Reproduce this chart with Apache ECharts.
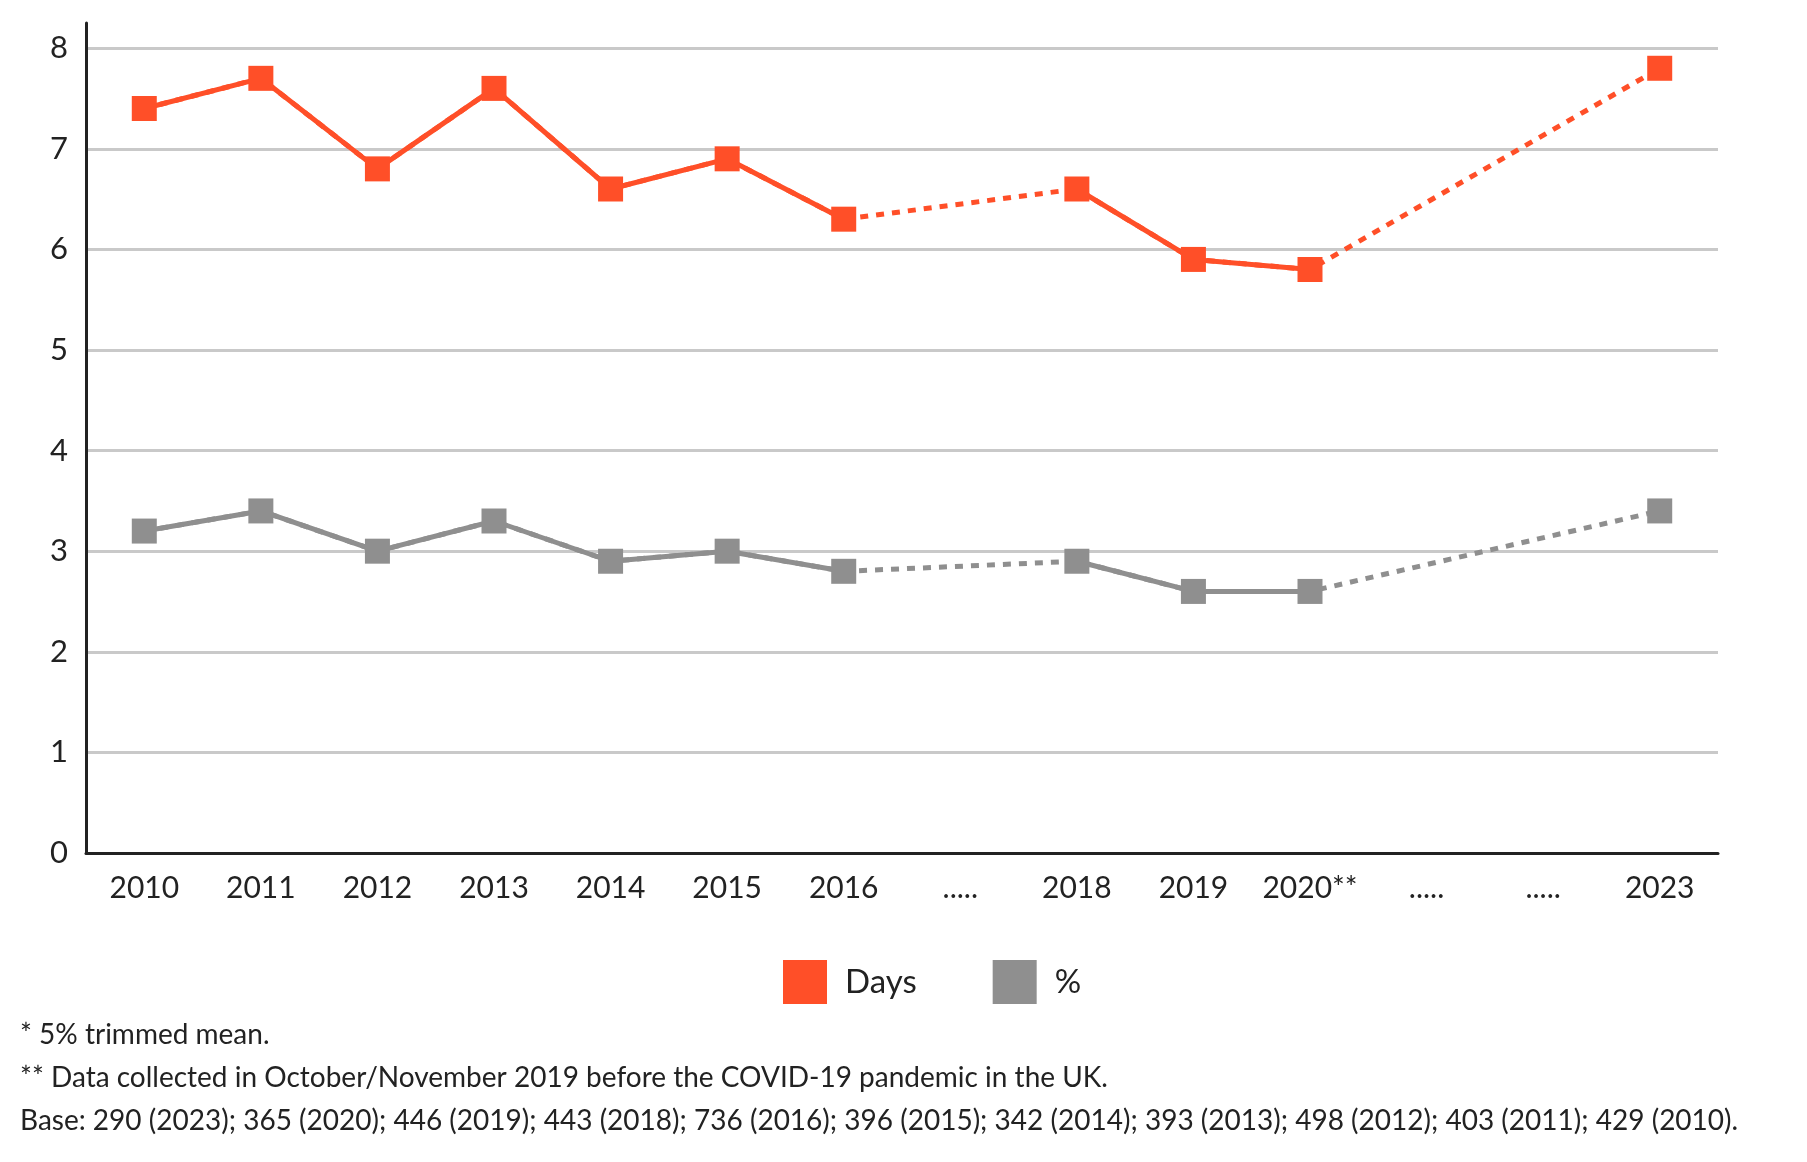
<!DOCTYPE html>
<html>
<head>
<meta charset="utf-8">
<script src="https://cdn.jsdelivr.net/npm/echarts@6/dist/echarts.min.js"></script>
<style>
html,body{margin:0;padding:0;background:#fff;}
#chart{width:1807px;height:1162px;}
</style>
</head>
<body>
<div id="chart"></div>
<script>
// ---- data ----
var categories = ['2010','2011','2012','2013','2014','2015','2016','.....','2018','2019','2020**','.....','.....','2023'];
var daysValues = [7.4, 7.7, 6.8, 7.6, 6.6, 6.9, 6.3, null, 6.6, 5.9, 5.8, null, null, 7.8];
var pctValues  = [3.2, 3.4, 3.0, 3.3, 2.9, 3.0, 2.8, null, 2.9, 2.6, 2.6, null, null, 3.4];
var seriesNames = ['Days', '%'];
var yTicks = [0,1,2,3,4,5,6,7,8];
var footnotes = [
  '* 5% trimmed mean.',
  '** Data collected in October/November 2019 before the COVID-19 pandemic in the UK.',
  'Base: 290 (2023); 365 (2020); 446 (2019); 443 (2018); 736 (2016); 396 (2015); 342 (2014); 393 (2013); 498 (2012); 403 (2011); 429 (2010).'
];

var ORANGE = '#FF4F28';
var GREY = '#8F8F8F';
var FONT = 'Lato, "Open Sans", sans-serif';
var TEXT = '#222222';

function solid(name, data, color) {
  return {
    name: name, type: 'line', data: data, connectNulls: false,
    symbol: 'rect', symbolSize: 25, showSymbol: true, showAllSymbol: true,
    lineStyle: {color: color, width: 5, type: 'solid'},
    itemStyle: {color: color},
    emphasis: {disabled: true}, animation: false, z: 3
  };
}
function dotted(name, data, color) {
  return {
    name: name + ' (gap)', type: 'line', data: data, connectNulls: true,
    symbol: 'none', showSymbol: false,
    lineStyle: {color: color, width: 5, type: [8, 8]},
    itemStyle: {color: color},
    emphasis: {disabled: true}, animation: false, z: 2
  };
}

var chart = echarts.init(document.getElementById('chart'), null, {renderer: 'canvas'});
chart.setOption({
  backgroundColor: '#ffffff',
  animation: false,
  grid: {left: 86, right: 89, top: 23, bottom: 309, containLabel: false, outerBoundsMode: 'none'},
  legend: {
    data: seriesNames,
    left: 778, top: 955,
    itemWidth: 44, itemHeight: 44, itemGap: 76,
    icon: 'rect',
    textStyle: {fontFamily: FONT, fontSize: 33, color: TEXT, padding: [0,0,0,13]},
    selectedMode: false
  },
  xAxis: {
    type: 'category', data: categories, boundaryGap: true,
    axisLine: {show: true, lineStyle: {color: '#222', width: 3}},
    axisTick: {show: false},
    axisLabel: {fontFamily: FONT, fontSize: 30, color: TEXT, margin: 20, interval: 0},
    splitLine: {show: false}
  },
  yAxis: {
    type: 'value', min: 0, max: 8.25, interval: 1,
    axisLine: {show: true, lineStyle: {color: '#222', width: 3}},
    axisTick: {show: false},
    axisLabel: {
      fontFamily: FONT, fontSize: 31, color: TEXT, margin: 18,
      formatter: function (v) { return yTicks.indexOf(v) >= 0 ? String(v) : ''; }
    },
    splitLine: {show: true, showMinLine: false, showMaxLine: false, lineStyle: {color: '#c9c9c9', width: 3}}
  },
  series: [
    dotted('Days', daysValues, ORANGE),
    dotted('%', pctValues, GREY),
    solid('Days', daysValues, ORANGE),
    solid('%', pctValues, GREY)
  ],
  graphic: footnotes.map(function (t, i) {
    return {
      type: 'text', left: 20, top: 1021 + i * 43,
      style: {text: t, fontFamily: FONT, fontSize: 28, fill: TEXT}
    };
  })
});
</script>
</body>
</html>
